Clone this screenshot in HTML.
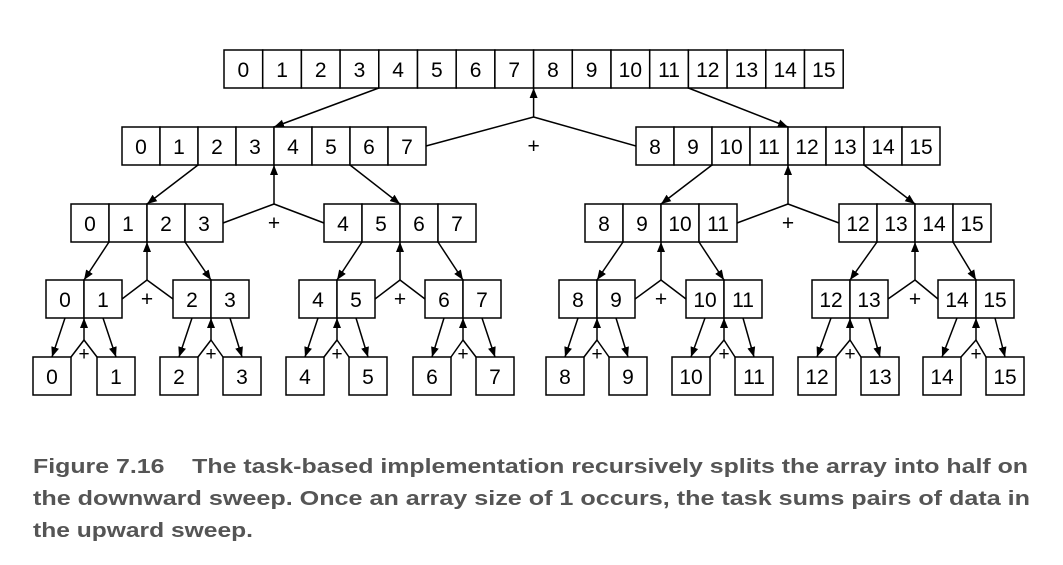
<!DOCTYPE html>
<html><head><meta charset="utf-8"><style>
html,body{margin:0;padding:0;background:#fff;width:1063px;height:565px;overflow:hidden}
svg{display:block}
.c{font-family:"Liberation Sans",Arial,sans-serif;font-size:21px;fill:#000}
.cap{font-family:"Liberation Sans",Arial,sans-serif;font-size:20px;font-weight:bold;fill:#555}
</style></head><body>
<svg id="fig" width="1063" height="565" viewBox="0 0 1063 565">
<defs><marker id="ah" viewBox="0 0 10 10" refX="10" refY="5" markerWidth="10" markerHeight="10" markerUnits="userSpaceOnUse" orient="auto"><path d="M0,1 L10,5 L0,9 z" fill="#000"/></marker></defs>
<g id="g"></g>
<text class="cap" x="33" y="473" textLength="995" lengthAdjust="spacingAndGlyphs">Figure 7.16&#160;&#160;&#160;&#160;The task-based implementation recursively splits the array into half on</text>
<text class="cap" x="33" y="505" textLength="997" lengthAdjust="spacingAndGlyphs">the downward sweep. Once an array size of 1 occurs, the task sums pairs of data in</text>
<text class="cap" x="33" y="537" textLength="220" lengthAdjust="spacingAndGlyphs">the upward sweep.</text>
</svg>
<script>
const levelY=[50,127,204,280,357];
const levelX=[[224],[122,636],[71,324,585,839],[46,173,299,425,559,686,812,938],[33,97,160,223,286,349,413,476,546,609,672,735,798,861,923,986]];
const levelW=[38.7,38,38,38,38];
const junctionY=[117,204,280,340];
const H=38;
const NS='http://www.w3.org/2000/svg';
const g=document.getElementById('g');
function mk(t,a){const e=document.createElementNS(NS,t);for(const k in a)e.setAttribute(k,a[k]);g.appendChild(e);return e;}
function line(x1,y1,x2,y2,arrow){const l=mk('line',{x1,y1,x2,y2,stroke:'#000','stroke-width':1.5});if(arrow)l.setAttribute('marker-end','url(#ah)');


return l;}
for(let L=0;L<5;L++){
  const n=16/levelX[L].length, w=levelW[L], y=levelY[L];
  levelX[L].forEach((x,i)=>{
    for(let c=0;c<n;c++){
      const r=mk('rect',{x:x+c*w,y,width:w,height:H,fill:'#fff',stroke:'#000','stroke-width':1.5});
      
      
      const t=mk('text',{x:x+c*w+w/2,y:y+H/2+8,'text-anchor':'middle',class:'c'});
      t.textContent=String(i*n+c);
      
      
    }
  });
}
for(let L=0;L<4;L++){
  const n=16/levelX[L].length, w=levelW[L], cw=levelW[L+1], yb=levelY[L]+H, yc=levelY[L+1];
  const m=n/2;
  levelX[L].forEach((xp,i)=>{
    const xl=levelX[L+1][2*i], xr=levelX[L+1][2*i+1];
    const lc=xl+m*cw/2, rc=xr+m*cw/2;
    line(xp+n*w/4,yb,lc,yc,true);
    line(xp+3*n*w/4,yb,rc,yc,true);
    const pc=xp+n*w/2, jy=junctionY[L];
    const ym = L===3 ? yc : yc+H/2;
    line(pc,jy,pc,yb,true);
    line(xl+m*cw,ym,pc,jy,false);
    line(pc,jy,xr,ym,false);
    const p=mk('text',{x:pc,y:L===3?yc+3:yc+H/2+7,'text-anchor':'middle',class:'c'});
    if(L===3)p.setAttribute('style','font-size:19px');
    p.textContent='+';
    
    
  });
}
</script>
</body></html>
